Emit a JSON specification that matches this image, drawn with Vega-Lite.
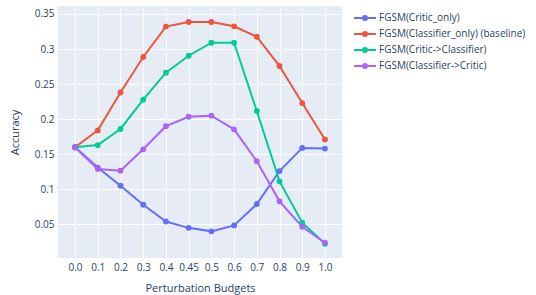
{
  "$schema": "https://vega.github.io/schema/vega-lite/v6.json",
  "autosize": {"type": "none"},
  "padding": {"left": 58, "top": 6, "right": 194, "bottom": 37},
  "width": 284,
  "height": 252,
  "background": "white",
  "config": {
    "view": {"fill": "#E5ECF6", "stroke": null},
    "font": "Open Sans",
    "axis": {"labelColor": "#2a3f5f", "titleColor": "#2a3f5f", "labelFontSize": 10, "titleFontSize": 11, "titleFontWeight": "normal", "gridColor": "white", "gridWidth": 1, "domain": false, "ticks": false}
  },
  "data": {"values": [
    {"b": "0.0", "s": "FGSM(Critic_only)", "v": 0.16},
    {"b": "0.1", "s": "FGSM(Critic_only)", "v": 0.131},
    {"b": "0.2", "s": "FGSM(Critic_only)", "v": 0.105},
    {"b": "0.3", "s": "FGSM(Critic_only)", "v": 0.078},
    {"b": "0.4", "s": "FGSM(Critic_only)", "v": 0.054},
    {"b": "0.45", "s": "FGSM(Critic_only)", "v": 0.045},
    {"b": "0.5", "s": "FGSM(Critic_only)", "v": 0.040},
    {"b": "0.6", "s": "FGSM(Critic_only)", "v": 0.0485},
    {"b": "0.7", "s": "FGSM(Critic_only)", "v": 0.079},
    {"b": "0.8", "s": "FGSM(Critic_only)", "v": 0.126},
    {"b": "0.9", "s": "FGSM(Critic_only)", "v": 0.159},
    {"b": "1.0", "s": "FGSM(Critic_only)", "v": 0.158},
    {"b": "0.0", "s": "FGSM(Classifier_only) (baseline)", "v": 0.16},
    {"b": "0.1", "s": "FGSM(Classifier_only) (baseline)", "v": 0.184},
    {"b": "0.2", "s": "FGSM(Classifier_only) (baseline)", "v": 0.238},
    {"b": "0.3", "s": "FGSM(Classifier_only) (baseline)", "v": 0.2887},
    {"b": "0.4", "s": "FGSM(Classifier_only) (baseline)", "v": 0.332},
    {"b": "0.45", "s": "FGSM(Classifier_only) (baseline)", "v": 0.3386},
    {"b": "0.5", "s": "FGSM(Classifier_only) (baseline)", "v": 0.3386},
    {"b": "0.6", "s": "FGSM(Classifier_only) (baseline)", "v": 0.3324},
    {"b": "0.7", "s": "FGSM(Classifier_only) (baseline)", "v": 0.3176},
    {"b": "0.8", "s": "FGSM(Classifier_only) (baseline)", "v": 0.2758},
    {"b": "0.9", "s": "FGSM(Classifier_only) (baseline)", "v": 0.223},
    {"b": "1.0", "s": "FGSM(Classifier_only) (baseline)", "v": 0.171},
    {"b": "0.0", "s": "FGSM(Critic->Classifier)", "v": 0.16},
    {"b": "0.1", "s": "FGSM(Critic->Classifier)", "v": 0.163},
    {"b": "0.2", "s": "FGSM(Critic->Classifier)", "v": 0.186},
    {"b": "0.3", "s": "FGSM(Critic->Classifier)", "v": 0.2278},
    {"b": "0.4", "s": "FGSM(Critic->Classifier)", "v": 0.2663},
    {"b": "0.45", "s": "FGSM(Critic->Classifier)", "v": 0.2905},
    {"b": "0.5", "s": "FGSM(Critic->Classifier)", "v": 0.309},
    {"b": "0.6", "s": "FGSM(Critic->Classifier)", "v": 0.309},
    {"b": "0.7", "s": "FGSM(Critic->Classifier)", "v": 0.2116},
    {"b": "0.8", "s": "FGSM(Critic->Classifier)", "v": 0.1113},
    {"b": "0.9", "s": "FGSM(Critic->Classifier)", "v": 0.0523},
    {"b": "1.0", "s": "FGSM(Critic->Classifier)", "v": 0.0223},
    {"b": "0.0", "s": "FGSM(Classifier->Critic)", "v": 0.16},
    {"b": "0.1", "s": "FGSM(Classifier->Critic)", "v": 0.129},
    {"b": "0.2", "s": "FGSM(Classifier->Critic)", "v": 0.1265},
    {"b": "0.3", "s": "FGSM(Classifier->Critic)", "v": 0.157},
    {"b": "0.4", "s": "FGSM(Classifier->Critic)", "v": 0.19},
    {"b": "0.45", "s": "FGSM(Classifier->Critic)", "v": 0.2035},
    {"b": "0.5", "s": "FGSM(Classifier->Critic)", "v": 0.205},
    {"b": "0.6", "s": "FGSM(Classifier->Critic)", "v": 0.1855},
    {"b": "0.7", "s": "FGSM(Classifier->Critic)", "v": 0.14},
    {"b": "0.8", "s": "FGSM(Classifier->Critic)", "v": 0.0828},
    {"b": "0.9", "s": "FGSM(Classifier->Critic)", "v": 0.0466},
    {"b": "1.0", "s": "FGSM(Classifier->Critic)", "v": 0.0238}
  ]},
  "encoding": {
    "x": {
      "field": "b", "type": "ordinal",
      "sort": ["0.0","0.1","0.2","0.3","0.4","0.45","0.5","0.6","0.7","0.8","0.9","1.0"],
      "scale": {"type": "point", "padding": 0.75},
      "axis": {"title": "Perturbation Budgets", "labelAngle": 0, "grid": true, "labelPadding": 4, "titlePadding": 10}
    },
    "y": {
      "field": "v", "type": "quantitative",
      "scale": {"domain": [0.002, 0.3614], "nice": false, "zero": false},
      "axis": {"title": "Accuracy", "values": [0.05, 0.1, 0.15, 0.2, 0.25, 0.3, 0.35], "format": "~g", "labelPadding": 4, "titlePadding": 14}
    },
    "color": {
      "field": "s", "type": "nominal",
      "scale": {
        "domain": ["FGSM(Critic_only)", "FGSM(Classifier_only) (baseline)", "FGSM(Critic->Classifier)", "FGSM(Classifier->Critic)"],
        "range": ["#636efa", "#EF553B", "#00cc96", "#ab63fa"]
      },
      "legend": {
        "title": null,
        "orient": "none",
        "legendX": 302,
        "legendY": 7,
        "labelFontSize": 10,
        "labelColor": "#2a3f5f",
        "rowPadding": 4,
        "labelOffset": 9,
        "symbolType": "M-4.4,0H4.4M-0.8,0a0.8,0.8 0 1,0 1.6,0a0.8,0.8 0 1,0 -1.6,0",
        "symbolSize": 25,
        "symbolStrokeWidth": 2,
        "encode": {"symbols": {"update": {"fill": {"scale": "color", "field": "value"}, "stroke": {"scale": "color", "field": "value"}}}}
      }
    }
  },
  "layer": [
    {"mark": {"type": "line", "strokeWidth": 2}},
    {"mark": {"type": "point", "filled": true, "size": 34, "opacity": 1}}
  ]
}
